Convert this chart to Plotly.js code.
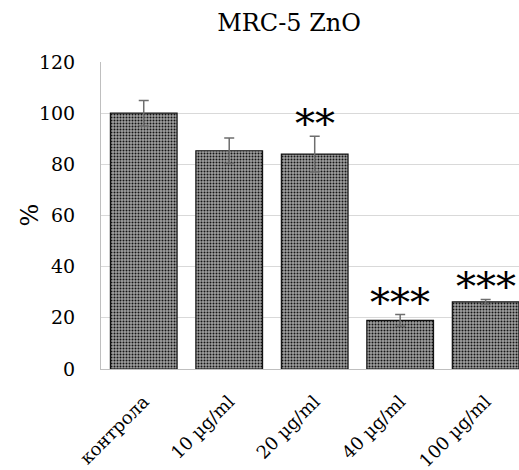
<!DOCTYPE html>
<html>
<head>
<meta charset="utf-8">
<script src="https://cdn.plot.ly/plotly-3.0.1.min.js"></script>
<style>html,body{margin:0;padding:0;background:#fff;}#chart{width:519px;height:470px;}</style>
</head>
<body>
<div id="chart"></div>
<script>
const categories = ["контрола", "10 µg/ml", "20 µg/ml", "40 µg/ml", "100 µg/ml"];
const values = [100, 85.3, 84, 19, 26.2];
const errors = [5, 5, 7, 2.3, 1];
const significance = ["", "", "**", "***", "***"];
const yTicks = [0, 20, 40, 60, 80, 100, 120];

const SERIF = "DejaVu Serif";

const trace = {
  type: "bar",
  x: categories,
  y: values,
  width: 0.78,
  marker: {
    color: "#7a7a7a",
    line: {color: "#111", width: 1.2},
    pattern: {shape: ".", size: 3, solidity: 0.35, fgcolor: "#141414", bgcolor: "#a0a0a0", fillmode: "replace"}
  },
  error_y: {type: "data", array: errors, visible: true, color: "#6e6e6e", thickness: 1.5, width: 5},
  hoverinfo: "none"
};

const annotations = categories.map((c, i) => significance[i] ? {
  x: c, y: values[i] + errors[i], xref: "x", yref: "y",
  text: significance[i], showarrow: false, yanchor: "bottom", yshift: -12,
  font: {family: SERIF, size: 40, color: "#000"}
} : null).filter(a => a);

annotations.push({
  text: "%", xref: "paper", yref: "paper", x: -0.172, y: 0.5, xanchor: "center", yanchor: "middle",
  textangle: -90, showarrow: false, font: {family: SERIF, size: 24, color: "#000"}
});

const layout = {
  width: 519, height: 470,
  margin: {l: 101, r: 0, t: 62, b: 101},
  paper_bgcolor: "#fff", plot_bgcolor: "#fff",
  showlegend: false,
  font: {family: SERIF, color: "#000"},
  title: {text: "MRC-5 ZnO", xref: "paper", x: 0.45, xanchor: "center", yref: "container", y: 0.952, yanchor: "middle",
          font: {family: SERIF, size: 24, color: "#000"}},
  xaxis: {
    type: "category", range: [-0.5, 4.39],
    tickangle: -45, showgrid: false, showline: true, linecolor: "#bfbfbf", linewidth: 1,
    ticks: "", ticklabelstandoff: 14,
    tickfont: {family: SERIF, size: 18, color: "#000"}
  },
  yaxis: {
    range: [0, 120], tickvals: yTicks, ticktext: yTicks.map(String),
    showgrid: true, gridcolor: "#d9d9d9", gridwidth: 1, zeroline: false,
    showline: true, linecolor: "#bfbfbf", linewidth: 1, ticks: "",
    ticklabelstandoff: 21,
    tickfont: {family: SERIF, size: 19, color: "#000"}
  },
  annotations: annotations
};

Plotly.newPlot("chart", [trace], layout, {displayModeBar: false, staticPlot: true});
</script>
</body>
</html>
